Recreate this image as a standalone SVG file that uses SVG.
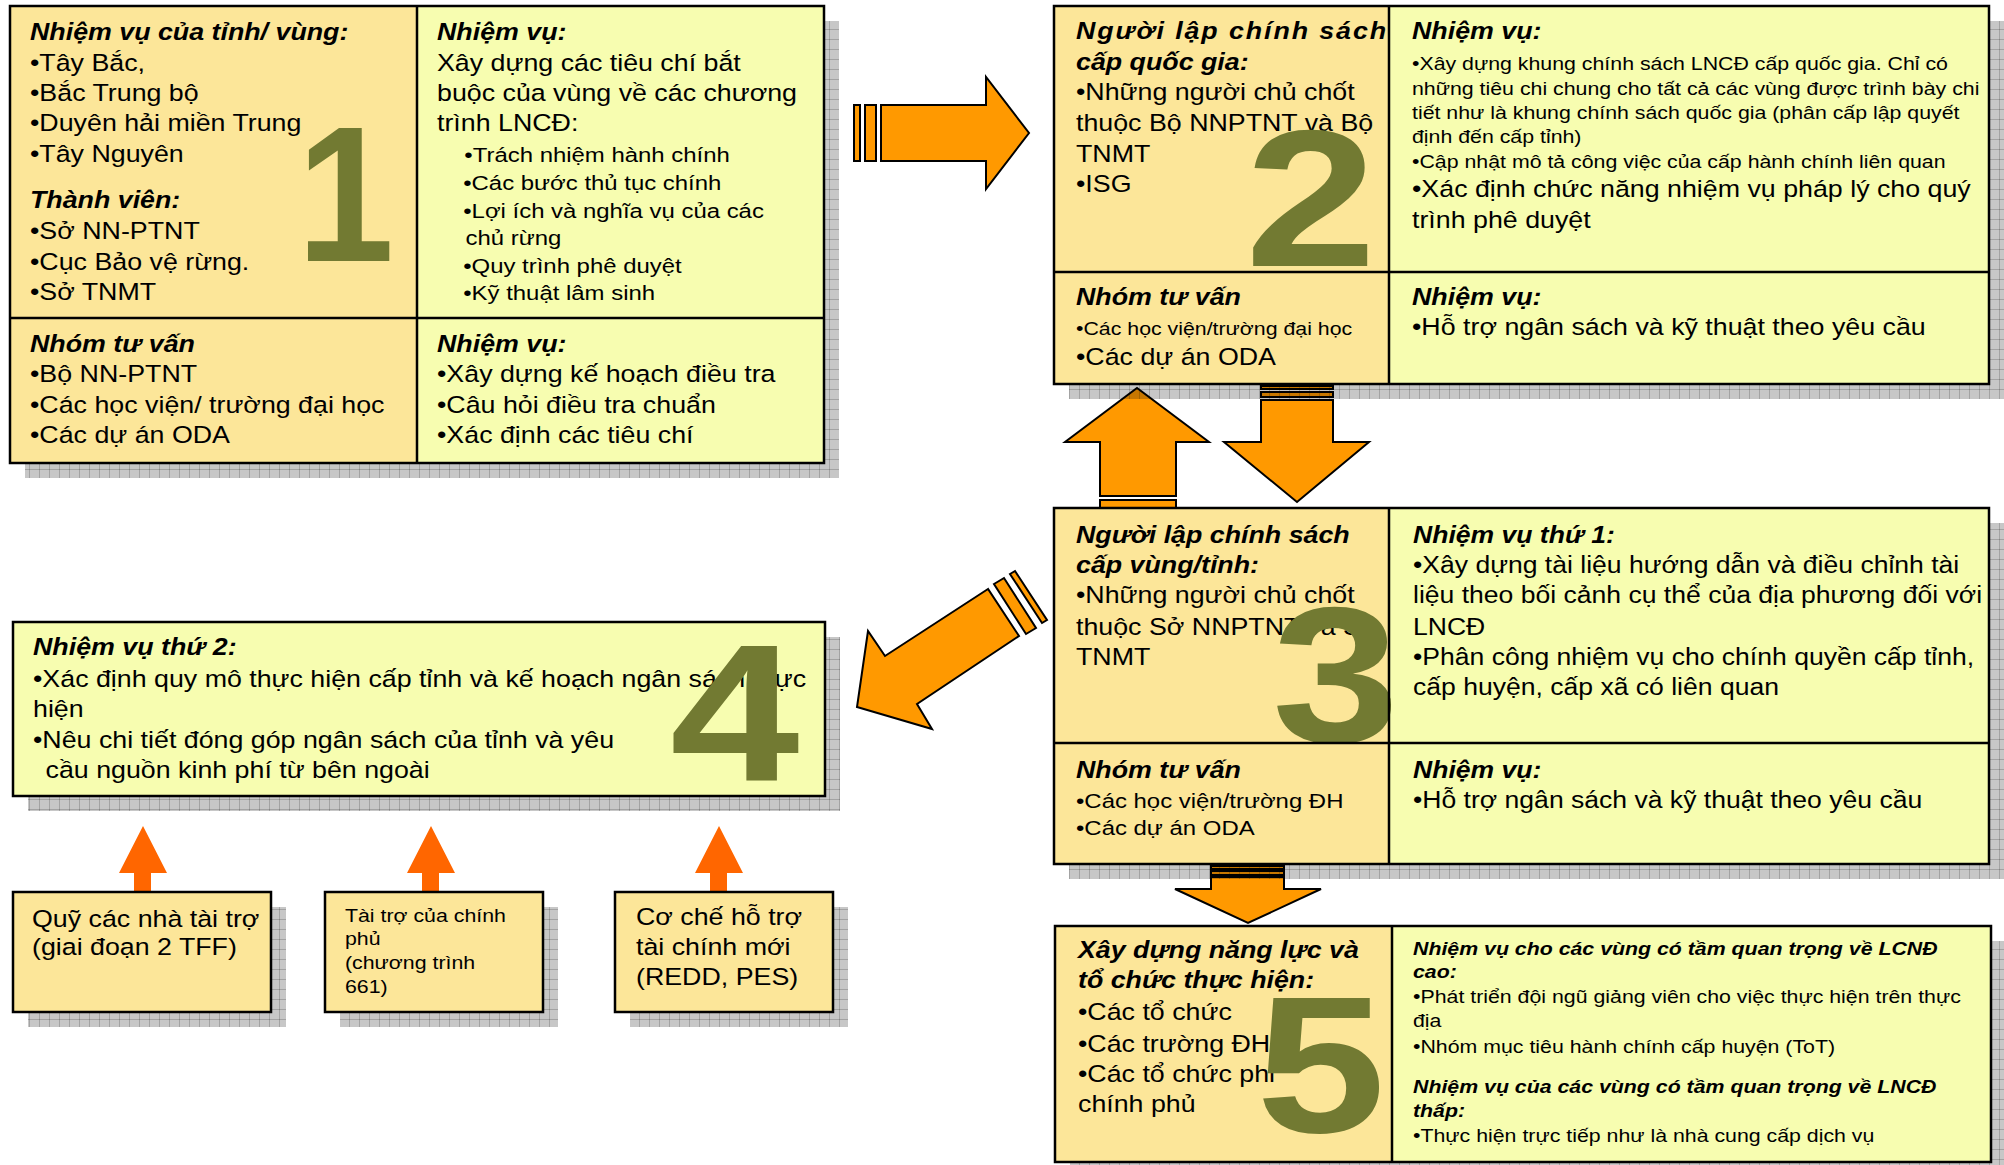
<svg xmlns="http://www.w3.org/2000/svg" width="2004" height="1165" viewBox="0 0 2004 1165">
<defs>
<pattern id="hatch" width="10" height="10" patternUnits="userSpaceOnUse"><rect width="10" height="10" fill="#000" fill-opacity="0.22"/><path d="M0 9.5H10M9.5 0V10" stroke="#000" stroke-opacity="0.18" stroke-width="1"/></pattern>
<style>
.sh{fill:url(#hatch)}
.fo{fill:#FCE699;stroke:none}
.fy{fill:#F7FDB0;stroke:none}
.bd{fill:none;stroke:#000;stroke-width:2.5}
.dv{stroke:#000;stroke-width:2.5;fill:none}
.ar{fill:#FF9900;stroke:#000;stroke-width:2;stroke-linejoin:miter}
.ua{fill:#FF6600;stroke:none}
text{font-family:"Liberation Sans",Arial,"DejaVu Sans",sans-serif;font-size:23.5px;fill:#000}
.bi{font-weight:bold;font-style:italic}
.s{font-size:21px}
.xs{font-size:18.7px}
.dg{font-weight:bold;font-size:194px;fill:#727A32}
</style>
</defs>
<rect width="2004" height="1165" fill="#fff"/>

<g id="connectors">
<rect class="ar" x="854" y="105" width="6" height="56"/>
<rect class="ar" x="865" y="105" width="11" height="56"/>
<polygon class="ar" points="881,105 986,105 986,77 1029,133 986,189 986,161 881,161"/>
<rect class="ar" x="1261" y="386" width="72" height="3"/>
<rect class="ar" x="1261" y="392" width="72" height="5"/>
<polygon class="ar" points="1261,400 1333,400 1333,442 1369,442 1297,502 1224,442 1261,442"/>
<polygon class="ar" points="1100,496 1176,496 1176,442 1209,442 1137,388 1065,442 1100,442"/>
<rect class="ar" x="1100" y="500" width="76" height="8"/>
<polygon class="ar" points="988,589 885,656 868,631 857,707 932,729 917,704 1019,636"/>
<polygon class="ar" points="994,584 1004,578 1036,628 1026,634"/>
<polygon class="ar" points="1010,574 1015,571 1047,620 1042,623"/>
<rect class="ar" x="1211" y="866" width="73" height="3"/>
<rect class="ar" x="1211" y="871" width="73" height="4"/>
<polygon class="ar" points="1211,877 1284,877 1284,889 1321,889 1248,923 1175,889 1211,889"/>
<polygon class="ua" points="134,892 134,873 119,873 143,826 167,873 151,873 151,892"/>
<polygon class="ua" points="422,892 422,873 407,873 431,826 455,873 439,873 439,892"/>
<polygon class="ua" points="710,892 710,873 695,873 719,826 743,873 727,873 727,892"/>
</g>

<g id="node1">
<rect class="sh" x="25" y="21" width="814" height="457"/>
<rect class="fo" x="10" y="6" width="407" height="457"/>
<rect class="fy" x="417" y="6" width="407" height="457"/>
<text class="dg" transform="translate(297,261) scale(0.9,1)">1</text>
<path class="dv" d="M417 6V463M10 318H824"/>
<rect class="bd" x="10" y="6" width="814" height="457"/>
<g transform="translate(30,0) scale(1.14,1)">
<text class="bi" y="40">Nhiệm vụ của tỉnh/ vùng:</text>
<text y="71">•Tây Bắc,</text>
<text y="101">•Bắc Trung bộ</text>
<text y="131">•Duyên hải miền Trung</text>
<text y="162">•Tây Nguyên</text>
<text class="bi" y="208">Thành viên:</text>
<text y="239">•Sở NN-PTNT</text>
<text y="270">•Cục Bảo vệ rừng.</text>
<text y="300">•Sở TNMT</text>
<text class="bi" y="352">Nhóm tư vấn</text>
<text y="382">•Bộ NN-PTNT</text>
<text y="413">•Các học viện/ trường đại học</text>
<text y="443">•Các dự án ODA</text>
</g>
<g transform="translate(437,0) scale(1.14,1)">
<text class="bi" y="40">Nhiệm vụ:</text>
<text y="71">Xây dựng các tiêu chí bắt</text>
<text y="101">buộc của vùng về các chương</text>
<text y="131">trình LNCĐ:</text>
<text class="s" x="24" y="162">•Trách nhiệm hành chính</text>
<text class="s" x="23" y="190">•Các bước thủ tục chính</text>
<text class="s" x="23" y="218">•Lợi ích và nghĩa vụ của các</text>
<text class="s" x="25" y="245">chủ rừng</text>
<text class="s" x="23" y="273">•Quy trình phê duyệt</text>
<text class="s" x="23" y="300">•Kỹ thuật lâm sinh</text>
<text class="bi" y="352">Nhiệm vụ:</text>
<text y="382">•Xây dựng kế hoạch điều tra</text>
<text y="413">•Câu hỏi điều tra chuẩn</text>
<text y="443">•Xác định các tiêu chí</text>
</g>
</g>

<g id="node2">
<rect class="sh" x="1069" y="21" width="935" height="378"/>
<rect class="fo" x="1054" y="6" width="335" height="378"/>
<rect class="fy" x="1389" y="6" width="600" height="378"/>
<g transform="translate(1076,0) scale(1.14,1)">
<text class="bi" y="39" textLength="272" lengthAdjust="spacing">Người lập chính sách</text>
<text class="bi" y="70">cấp quốc gia:</text>
<text y="100">•Những người chủ chốt</text>
<text y="131">thuộc Bộ NNPTNT và Bộ</text>
<text y="162">TNMT</text>
<text y="192">•ISG</text>
<text class="bi" y="305">Nhóm tư vấn</text>
<text class="xs" y="335">•Các học viện/trường đại học</text>
<text y="365">•Các dự án ODA</text>
</g>
<text class="dg" transform="translate(1245,266) scale(1.22,1)">2</text>
<path class="dv" d="M1389 6V384M1054 272H1989"/>
<rect class="bd" x="1054" y="6" width="935" height="378"/>
<g transform="translate(1412,0) scale(1.14,1)">
<text class="bi" y="39">Nhiệm vụ:</text>
<text class="xs" y="70">•Xây dựng khung chính sách LNCĐ cấp quốc gia. Chỉ có</text>
<text class="xs" y="95">những tiêu chi chung cho tất cả các vùng được trình bày chi</text>
<text class="xs" y="119">tiết như là khung chính sách quốc gia (phân cấp lập quyết</text>
<text class="xs" y="143">định đến cấp tỉnh)</text>
<text class="xs" y="168">•Cập nhật mô tả công việc của cấp hành chính liên quan</text>
<text y="197">•Xác định chức năng nhiệm vụ pháp lý cho quý</text>
<text y="228">trình phê duyệt</text>
<text class="bi" y="305">Nhiệm vụ:</text>
<text y="335">•Hỗ trợ ngân sách và kỹ thuật theo yêu cầu</text>
</g>
</g>

<g id="node3">
<rect class="sh" x="1069" y="523" width="935" height="356"/>
<rect class="fo" x="1054" y="508" width="335" height="356"/>
<rect class="fy" x="1389" y="508" width="600" height="356"/>
<g transform="translate(1076,0) scale(1.14,1)">
<text class="bi" y="543">Người lập chính sách</text>
<text class="bi" y="573">cấp vùng/tỉnh:</text>
<text y="603">•Những người chủ chốt</text>
<text y="635">thuộc Sở NNPTNT và Sở</text>
<text y="665">TNMT</text>
<text class="bi" y="778">Nhóm tư vấn</text>
<text class="s" y="808">•Các học viện/trường ĐH</text>
<text class="s" y="835">•Các dự án ODA</text>
</g>
<text class="dg" transform="translate(1272,742) scale(1.18,1)">3</text>
<path class="dv" d="M1389 508V864M1054 743H1989"/>
<rect class="bd" x="1054" y="508" width="935" height="356"/>
<g transform="translate(1413,0) scale(1.13,1)">
<text class="bi" y="543">Nhiệm vụ thứ 1:</text>
<text y="573">•Xây dựng tài liệu hướng dẫn và điều chỉnh tài</text>
<text y="603">liệu theo bối cảnh cụ thể của địa phương đối với</text>
<text y="635">LNCĐ</text>
<text y="665">•Phân công nhiệm vụ cho chính quyền cấp tỉnh,</text>
<text y="695">cấp huyện, cấp xã có liên quan</text>
<text class="bi" y="778">Nhiệm vụ:</text>
<text y="808">•Hỗ trợ ngân sách và kỹ thuật theo yêu cầu</text>
</g>
</g>

<g id="node4">
<rect class="sh" x="28" y="637" width="812" height="174"/>
<rect class="fy" x="13" y="622" width="812" height="174"/>
<g transform="translate(33,0) scale(1.14,1)">
<text class="bi" y="655">Nhiệm vụ thứ 2:</text>
<text y="687">•Xác định quy mô thực hiện cấp tỉnh và kế hoạch ngân sách thực</text>
<text y="717">hiện</text>
<text y="748">•Nêu chi tiết đóng góp ngân sách của tỉnh và yêu</text>
<text x="11" y="778">cầu nguồn kinh phí từ bên ngoài</text>
</g>
<text class="dg" transform="translate(670,780) scale(1.2,1)">4</text>
<rect class="bd" x="13" y="622" width="812" height="174"/>
</g>

<g id="node5">
<rect class="sh" x="1070" y="941" width="936" height="236"/>
<rect class="fo" x="1055" y="926" width="337" height="236"/>
<rect class="fy" x="1392" y="926" width="599" height="236"/>
<g transform="translate(1078,0) scale(1.14,1)">
<text class="bi" y="958">Xây dựng năng lực và</text>
<text class="bi" y="988">tổ chức thực hiện:</text>
<text y="1020">•Các tổ chức</text>
<text y="1052">•Các trường ĐH</text>
<text y="1082">•Các tổ chức phi</text>
<text y="1112">chính phủ</text>
</g>
<text class="dg" transform="translate(1256,1132) scale(1.2,1)">5</text>
<path class="dv" d="M1392 926V1162"/>
<rect class="bd" x="1055" y="926" width="936" height="236"/>
<g transform="translate(1413,0) scale(1.14,1)">
<text class="bi xs" y="955">Nhiệm vụ cho các vùng có tầm quan trọng về LCNĐ</text>
<text class="bi xs" y="978">cao:</text>
<text class="xs" y="1003">•Phát triển đội ngũ giảng viên cho việc thực hiện trên thực</text>
<text class="xs" y="1027">địa</text>
<text class="xs" y="1053">•Nhóm mục tiêu hành chính cấp huyện (ToT)</text>
<text class="bi xs" y="1093">Nhiệm vụ của các vùng có tầm quan trọng về LNCĐ</text>
<text class="bi xs" y="1117">thấp:</text>
<text class="xs" y="1142">•Thực hiện trực tiếp như là nhà cung cấp dịch vụ</text>
</g>
</g>

<g id="nodeA">
<rect class="sh" x="28" y="907" width="258" height="120"/>
<rect class="fo" x="13" y="892" width="258" height="120"/>
<rect class="bd" x="13" y="892" width="258" height="120"/>
<g transform="translate(32,0) scale(1.14,1)">
<text y="927">Quỹ các nhà tài trợ</text>
<text y="955">(giai đoạn 2 TFF)</text>
</g>
</g>

<g id="nodeB">
<rect class="sh" x="340" y="907" width="218" height="120"/>
<rect class="fo" x="325" y="892" width="218" height="120"/>
<rect class="bd" x="325" y="892" width="218" height="120"/>
<g transform="translate(345,0) scale(1.14,1)">
<text class="xs" y="922">Tài trợ của chính</text>
<text class="xs" y="945">phủ</text>
<text class="xs" y="969">(chương trình</text>
<text class="xs" y="993">661)</text>
</g>
</g>

<g id="nodeC">
<rect class="sh" x="630" y="907" width="218" height="120"/>
<rect class="fo" x="615" y="892" width="218" height="120"/>
<rect class="bd" x="615" y="892" width="218" height="120"/>
<g transform="translate(636,0) scale(1.14,1)">
<text y="925">Cơ chế hỗ trợ</text>
<text y="955">tài chính mới</text>
<text y="985">(REDD, PES)</text>
</g>
</g>
</svg>
